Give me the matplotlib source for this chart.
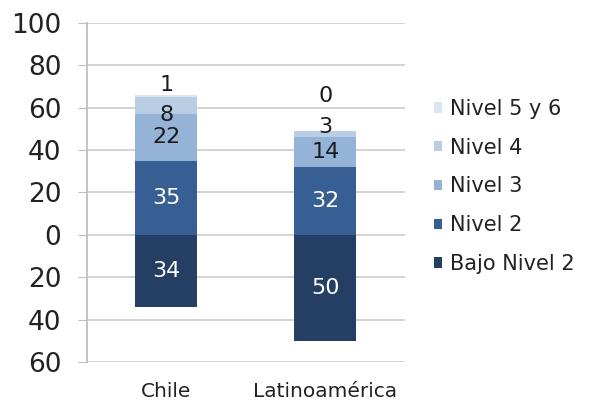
import matplotlib

matplotlib.use("Agg")
import matplotlib.pyplot as plt
import numpy as np
from matplotlib.patches import Patch
from matplotlib.ticker import FuncFormatter

categories = ["Chile", "Latinoamérica"]
levels = ["Bajo Nivel 2", "Nivel 2", "Nivel 3", "Nivel 4", "Nivel 5 y 6"]
bajo_nivel_2 = [34, 50]
nivel_2 = [35, 32]
nivel_3 = [22, 14]
nivel_4 = [8, 3]
nivel_5_6 = [1, 0]

colors = ["#243F63", "#375F93", "#95B3D7", "#B9CDE5", "#DCE6F2"]
text_colors = ["white", "white", "#1a1a1a", "#1a1a1a", "#1a1a1a"]
# label nudges (data units) for the thin top segments, as in the original
nudges = [[0, 0, 0, -4.5, 5], [0, 0, 0, 3.5, 16.5]]

plt.rcParams["font.family"] = ["Verdana", "DejaVu Sans"]
fig = plt.figure(figsize=(5.93, 4.01), dpi=100)
ax = fig.add_axes([0.1467, 0.097, 0.536, 0.846])

x = np.arange(len(categories))
width = 0.39
positive = [nivel_2, nivel_3, nivel_4, nivel_5_6]

ax.bar(x, [-v for v in bajo_nivel_2], width, color=colors[0], zorder=3)
for i, v in enumerate(bajo_nivel_2):
    ax.text(x[i], -v / 2, str(v), ha="center", va="center",
            color=text_colors[0], fontsize=16)

bottom = np.zeros(len(categories))
for k, series in enumerate(positive, start=1):
    vals = np.array(series, dtype=float)
    ax.bar(x, vals, width, bottom=bottom, color=colors[k], zorder=3)
    for i, v in enumerate(vals):
        ypos = bottom[i] + v / 2 + nudges[i][k]
        ax.text(x[i], ypos, str(int(v)), ha="center", va="center",
                color=text_colors[k], fontsize=16)
    bottom += vals

ax.set_xlim(-0.5, 1.5)
ax.set_ylim(-60, 100)
ax.set_yticks(range(-60, 101, 20))
ax.yaxis.set_major_formatter(FuncFormatter(lambda v, _: f"{abs(int(v))}"))
ax.set_xticks(x, categories)
ax.tick_params(axis="y", labelsize=19, labelcolor="#222222", length=6.5,
               color="#BFBFBF", pad=12)
ax.tick_params(axis="x", labelsize=14.5, labelcolor="#222222", length=0, pad=14)
ax.grid(axis="y", color="#D0D0D0", linewidth=1.3, zorder=0)
for side in ["top", "right", "bottom"]:
    ax.spines[side].set_visible(False)
ax.spines["left"].set_color("#BFBFBF")
ax.spines["left"].set_linewidth(1.3)

handles = [Patch(facecolor=colors[k], label=levels[k]) for k in reversed(range(5))]
fig.legend(handles=handles, loc="center left", bbox_to_anchor=(0.701, 0.535),
           frameon=False, fontsize=15, labelcolor="#222222",
           handlelength=0.37, handleheight=0.37, handletextpad=0.4,
           labelspacing=0.9)

fig.savefig("out.png", dpi=100)
